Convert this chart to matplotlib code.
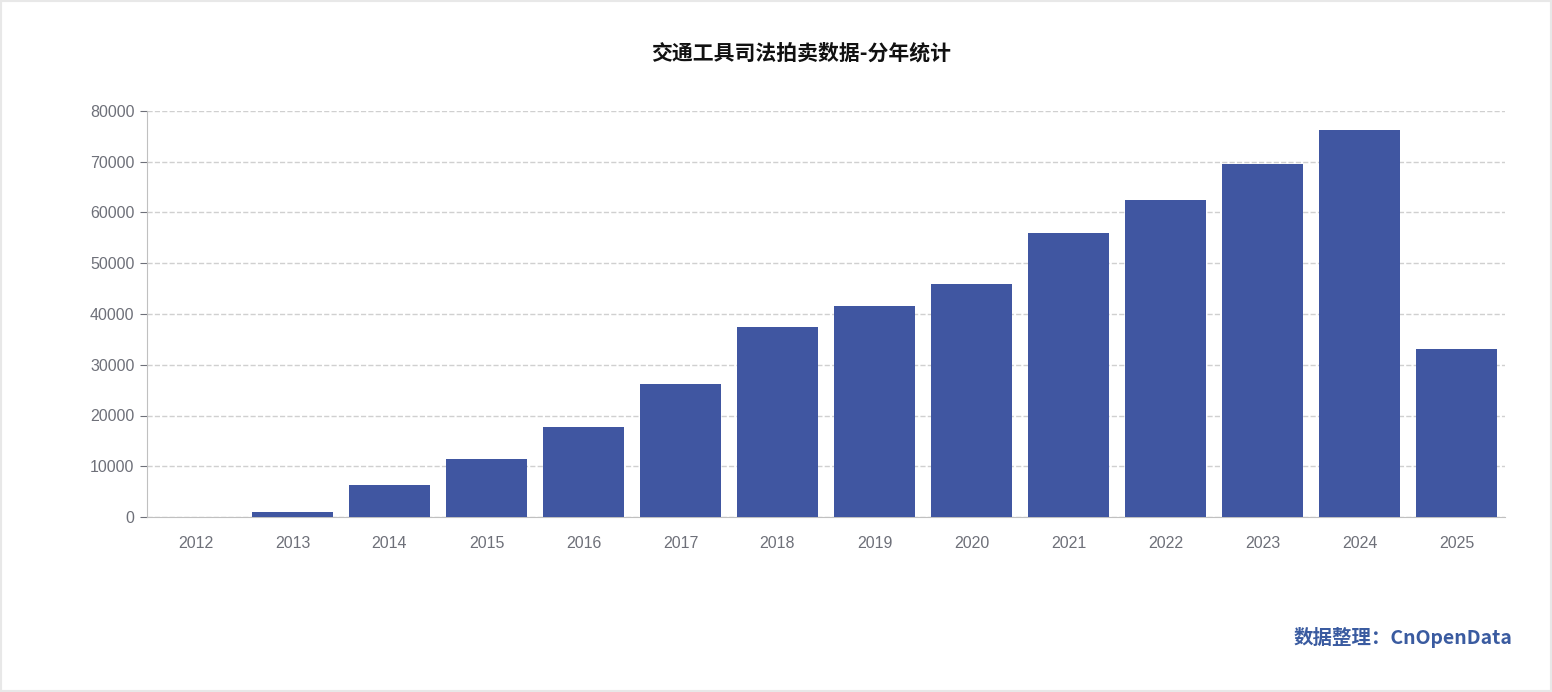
import matplotlib.pyplot as plt
from matplotlib.patches import Rectangle

years = ['2012', '2013', '2014', '2015', '2016', '2017', '2018',
         '2019', '2020', '2021', '2022', '2023', '2024', '2025']
counts = [60, 1000, 6300, 11400, 17700, 26200, 37400,
          41600, 45900, 56000, 62500, 69600, 76300, 33100]
yticks = [0, 10000, 20000, 30000, 40000, 50000, 60000, 70000, 80000]

plt.rcParams['font.family'] = ['Noto Sans CJK SC']

fig = plt.figure(figsize=(15.52, 6.92), dpi=100)
fig.patches.append(Rectangle((0, 0), 1, 1, transform=fig.transFigure,
                             fill=False, edgecolor='#e8e8e8', linewidth=3))
ax = fig.add_axes([147 / 1552, 1 - 517 / 692, (1505 - 147) / 1552, (517 - 111) / 692])

x = range(len(years))
ax.bar(x, counts, width=0.83, color='#4056a1', zorder=3)
ax.set_xlim(-0.5, len(years) - 0.5)
ax.set_ylim(0, 80000)
ax.set_yticks(yticks)
ax.set_yticklabels([str(v) for v in yticks], fontsize=11.5, color='#6e7079', fontfamily='Liberation Sans')
ax.set_xticks(list(x))
ax.set_xticklabels(years, fontsize=11.5, color='#6e7079', fontfamily='Liberation Sans')
ax.tick_params(axis='x', length=0, pad=14)
ax.tick_params(axis='y', length=5, color='#6e7079', pad=4)
ax.grid(axis='y', linestyle='--', color='#d0d0d0', linewidth=1, zorder=0)
for s in ['top', 'right']:
    ax.spines[s].set_visible(False)
ax.spines['bottom'].set_color('#c0c0c0')
ax.spines['left'].set_color('#c0c0c0')

fig.text(0.516, 1 - 53 / 692, '交通工具司法拍卖数据-分年统计', ha='center', va='center',
         fontsize=15, fontweight='bold', color='#111111')
fig.text(1512 / 1552, 1 - 638 / 692, '数据整理：CnOpenData', ha='right', va='center',
         fontsize=14, fontweight='bold', color='#3a5ba0')

fig.savefig('out.png', dpi=100)
